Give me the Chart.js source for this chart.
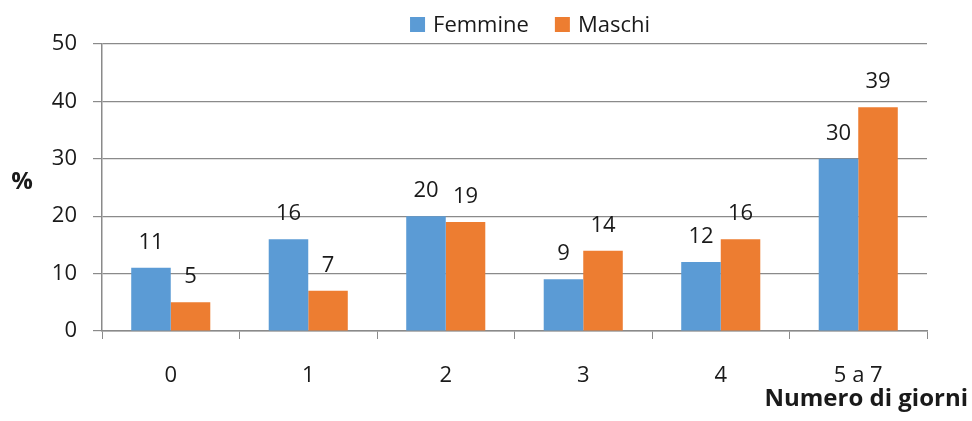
<!DOCTYPE html>
<html>
<head>
<script src="https://cdn.jsdelivr.net/npm/chart.js@4.4.1/dist/chart.umd.min.js"></script>
<style>
  body { margin: 0; background: #fff; }
  #wrap { width: 972px; height: 421px; }
</style>
</head>
<body>
<div id="wrap"><canvas id="myChart" width="972" height="421"></canvas></div>
<script>
  const giorni = ["0", "1", "2", "3", "4", "5 a 7"];
  const femmine = [11, 16, 20, 9, 12, 30];
  const maschi = [5, 7, 19, 14, 16, 39];
  const seriesNames = ["Femmine", "Maschi"];
  const yTicks = [0, 10, 20, 30, 40, 50];

  const FONT = "'Open Sans', sans-serif";
  const TEXT = "#1a1a1a";
  const AXIS = "#8a8a8a";

  // value labels, legend and the two axis titles
  const extras = {
    id: "extras",
    afterDatasetsDraw(chart) {
      const ctx = chart.ctx;
      ctx.save();
      ctx.fillStyle = TEXT;
      ctx.font = "22px " + FONT;
      ctx.textAlign = "center";
      ctx.textBaseline = "alphabetic";
      chart.data.datasets.forEach((ds, i) => {
        chart.getDatasetMeta(i).data.forEach((bar, j) => {
          ctx.fillText(ds.data[j], bar.x, bar.y - 19);
        });
      });

      // legend
      const items = chart.data.datasets.map(ds => ({ label: ds.label, color: ds.backgroundColor }));
      const box = 15, gap = 8, spacing = 26;
      let total = 0;
      items.forEach((it, k) => {
        it.w = ctx.measureText(it.label).width;
        total += box + gap + it.w + (k ? spacing : 0);
      });
      let x = 530 - total / 2;
      ctx.textAlign = "left";
      items.forEach(it => {
        ctx.fillStyle = it.color;
        ctx.fillRect(x, 17, box, box);
        ctx.fillStyle = TEXT;
        ctx.fillText(it.label, x + box + gap, 32);
        x += box + gap + it.w + spacing;
      });

      // axis titles
      ctx.font = "bold 24px " + FONT;
      ctx.textAlign = "center";
      ctx.fillText("%", 22, 189);
      ctx.textAlign = "right";
      ctx.fillText("Numero di giorni", 968, 406);
      ctx.restore();
    }
  };

  new Chart("myChart", {
    type: "bar",
    data: {
      labels: giorni,
      datasets: [
        { label: seriesNames[0], data: femmine, backgroundColor: "#5B9BD5" },
        { label: seriesNames[1], data: maschi, backgroundColor: "#ED7D31" }
      ]
    },
    options: {
      responsive: false,
      animation: false,
      categoryPercentage: 0.575,
      barPercentage: 1,
      layout: { padding: { top: 44, right: 45, left: 0, bottom: 0 } },
      plugins: {
        legend: { display: false },
        tooltip: { enabled: false }
      },
      scales: {
        x: {
          afterFit: s => { s.height = 90; },
          grid: { drawOnChartArea: false, drawTicks: true, tickLength: 8, color: AXIS, offset: true },
          border: { display: true, color: AXIS, width: 1.5 },
          ticks: { color: TEXT, font: { family: FONT, size: 22 }, padding: 24 }
        },
        y: {
          min: 0,
          max: 50,
          afterFit: s => { s.width = 102; },
          afterBuildTicks: s => { s.ticks = yTicks.map(v => ({ value: v })); },
          grid: { color: AXIS, tickLength: 9, lineWidth: 1.2 },
          border: { display: true, color: AXIS, width: 1.5 },
          ticks: { color: TEXT, font: { family: FONT, size: 22 }, padding: 16 }
        }
      }
    },
    plugins: [extras]
  });
</script>
</body>
</html>
